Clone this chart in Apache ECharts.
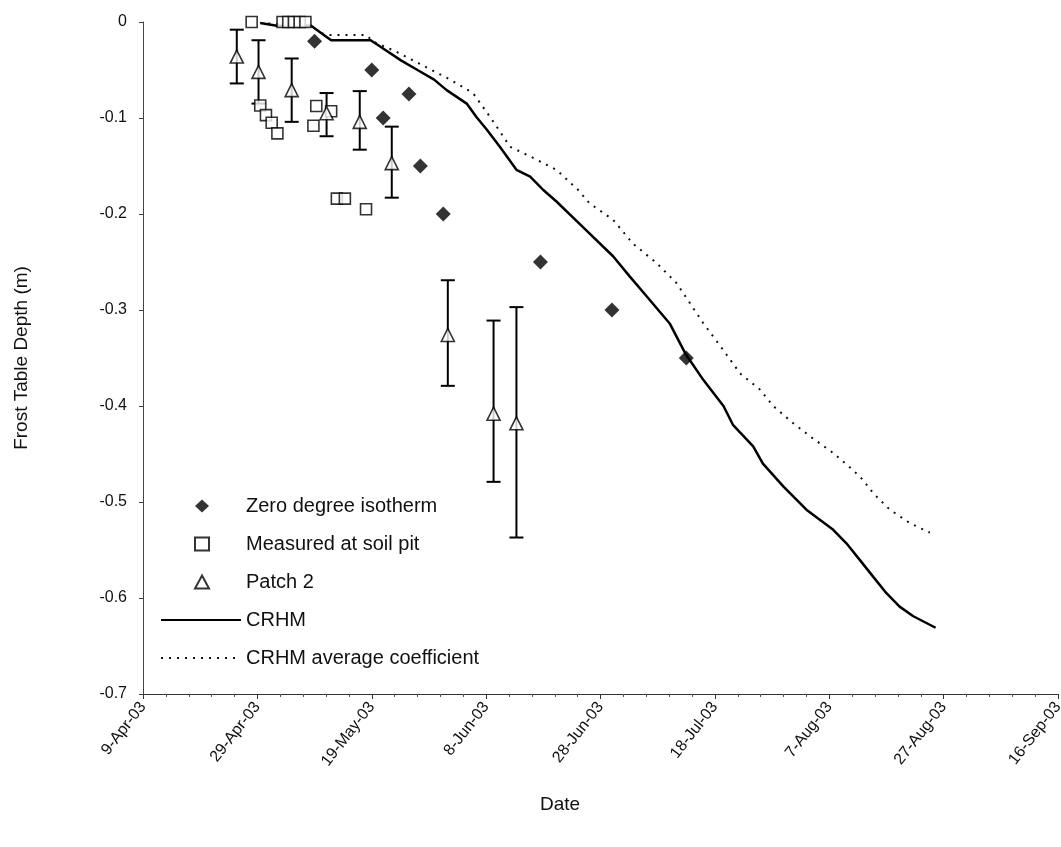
<!DOCTYPE html>
<html>
<head>
<meta charset="utf-8">
<title>Frost table depth</title>
<script src="https://cdn.jsdelivr.net/npm/echarts@6.0.0/dist/echarts.min.js"></script>
<style>
  html, body { margin: 0; background: #fff; }
  #chart { width: 1061px; height: 847px; }
</style>
</head>
<body>
<div id="chart"></div>
<script>
// x values are days after 9-Apr-03
const START = Date.UTC(2003, 3, 9);
const MONTHS = ['Jan', 'Feb', 'Mar', 'Apr', 'May', 'Jun', 'Jul', 'Aug', 'Sep', 'Oct', 'Nov', 'Dec'];

const isothermDay = [30, 40, 42, 46.5, 48.5, 52.5, 69.5, 82, 95];
const isothermDepth = [-0.02, -0.05, -0.1, -0.075, -0.15, -0.2, -0.25, -0.3, -0.35];

const pitDay = [19, 20.5, 21.5, 22.5, 23.5, 24.4, 25.4, 26.4, 27.4, 28.4, 29.8, 30.3, 32.9, 33.9, 35.3, 39];
const pitDepth = [0, -0.087, -0.097, -0.105, -0.116, 0, 0, 0, 0, 0, -0.108, -0.0875, -0.093, -0.184, -0.184, -0.195];

const patchDay = [16.4, 20.2, 26, 32.1, 37.9, 43.5, 53.3, 61.3, 65.3];
const patchDepth = [-0.036, -0.052, -0.071, -0.095, -0.104, -0.147, -0.326, -0.408, -0.418];
const patchLow = [-0.064, -0.085, -0.104, -0.119, -0.133, -0.183, -0.379, -0.479, -0.537];
const patchHigh = [-0.008, -0.019, -0.038, -0.074, -0.072, -0.109, -0.269, -0.311, -0.297];

const crhmDay = [20.5, 23.4, 29.4, 31.5, 32.9, 39.8, 41.6, 45.1, 48, 50.9, 53.1, 56.6, 58.3, 60.1, 62.4, 65.3,
  67.7, 70, 72.3, 76.3, 82.2, 85.1, 88.1, 92.1, 94.8, 98, 101.5, 103.2, 106.7, 108.4, 112, 116, 120.7,
  123, 125.3, 127.7, 130, 132.3, 134.7, 138.6];
const crhmDepth = [-0.001, -0.004, -0.004, -0.013, -0.019, -0.019, -0.026, -0.04, -0.05, -0.06, -0.071, -0.085,
  -0.099, -0.112, -0.13, -0.154, -0.161, -0.175, -0.187, -0.21, -0.244, -0.265, -0.286, -0.314, -0.345, -0.373,
  -0.4, -0.42, -0.442, -0.46, -0.484, -0.508, -0.529, -0.543, -0.56, -0.578, -0.595, -0.609, -0.619, -0.631];

const avgDay = [20.5, 29.4, 31, 32.1, 39, 40.3, 44.3, 53.7, 57.7, 60.7, 64.2, 67.7, 72.3, 76.1, 78.1, 82.2,
  85.7, 89.8, 93.3, 98, 101.5, 104.4, 107.9, 110.2, 113.7, 117.2, 120.7, 124.2, 125.9, 127.7, 130.6, 134.1, 137.6];
const avgDepth = [-0.001, -0.004, -0.011, -0.0135, -0.0135, -0.0205, -0.031, -0.06, -0.074, -0.099, -0.13, -0.14,
  -0.154, -0.175, -0.189, -0.206, -0.231, -0.251, -0.272, -0.314, -0.342, -0.366, -0.383, -0.4, -0.418, -0.434,
  -0.449, -0.467, -0.477, -0.491, -0.508, -0.522, -0.532];

const dayTicks = 20;

const FONT = "'Liberation Sans', Arial, sans-serif";
const zip = (xs, ys) => xs.map((x, i) => [x, ys[i]]);

function dayLabel(d) {
  const t = new Date(START + d * 86400000);
  return t.getUTCDate() + '-' + MONTHS[t.getUTCMonth()] + '-03';
}

const chart = echarts.init(document.getElementById('chart'), null, { renderer: 'canvas' });

const legendText = { fontFamily: FONT, fontSize: 20, color: '#111' };

const option = {
  backgroundColor: '#fff',
  animation: false,
  textStyle: { fontFamily: FONT, color: '#111' },
  grid: { left: 143, right: 3, top: 22, bottom: 153, outerBoundsMode: 'none' },
  legend: [
    {
      // marker entries: small icon, text lined up with the line entries
      orient: 'vertical',
      left: 189,
      top: 491,
      itemWidth: 14,
      itemHeight: 13,
      itemGap: 18,
      selectedMode: false,
      textStyle: Object.assign({ padding: [0, 0, 0, 32] }, legendText),
      data: ['Zero degree isotherm', 'Measured at soil pit', 'Patch 2']
    },
    {
      orient: 'vertical',
      left: 155,
      top: 605,
      itemWidth: 80,
      itemHeight: 12,
      itemGap: 18,
      selectedMode: false,
      textStyle: legendText,
      data: [
        { name: 'CRHM', itemStyle: { opacity: 0 } },
        { name: 'CRHM average coefficient', itemStyle: { opacity: 0 } }
      ]
    }
  ],
  xAxis: {
    type: 'value',
    min: 0,
    max: 160,
    interval: dayTicks,
    axisLine: { onZero: false, lineStyle: { color: '#333', width: 1 } },
    axisTick: { length: 5, lineStyle: { color: '#333' } },
    minorTick: { show: true, splitNumber: 5, length: 3, lineStyle: { color: '#555' } },
    splitLine: { show: false },
    axisLabel: {
      rotate: 52,
      margin: 10,
      fontSize: 16,
      color: '#111',
      fontFamily: FONT,
      showMinLabel: true,
      showMaxLabel: true,
      formatter: dayLabel
    }
  },
  yAxis: {
    type: 'value',
    min: -0.7,
    max: 0,
    interval: 0.1,
    name: 'Frost Table Depth (m)',
    nameLocation: 'middle',
    nameGap: 112,
    nameTextStyle: { fontSize: 19, color: '#111', fontFamily: FONT },
    axisLine: { show: true, lineStyle: { color: '#444', width: 1 } },
    axisTick: { show: true, length: 4, lineStyle: { color: '#444' } },
    splitLine: { show: false },
    axisLabel: {
      margin: 16,
      fontSize: 16,
      color: '#111',
      fontFamily: FONT,
      formatter: v => (Math.abs(v) < 1e-9 ? '0' : v.toFixed(1))
    }
  },
  graphic: [{
    type: 'text',
    left: 540,
    top: 795,
    style: { text: 'Date', font: "19px 'Liberation Sans', Arial, sans-serif", fill: '#111' }
  }],
  series: [
    {
      name: 'CRHM',
      type: 'line',
      symbol: 'none',
      itemStyle: { color: '#000' },
      lineStyle: { color: '#000', width: 2.5 },
      data: zip(crhmDay, crhmDepth),
      z: 2
    },
    {
      name: 'CRHM average coefficient',
      type: 'line',
      symbol: 'none',
      itemStyle: { color: '#000' },
      lineStyle: { color: '#111', width: 2, type: [2, 6] },
      data: zip(avgDay, avgDepth),
      z: 2
    },
    {
      name: 'Patch 2 range',
      type: 'custom',
      encode: { x: 0, y: [1, 2] },
      data: patchDay.map((d, i) => [d, patchLow[i], patchHigh[i]]),
      renderItem(params, api) {
        const x = api.value(0);
        const lo = api.coord([x, api.value(1)]);
        const hi = api.coord([x, api.value(2)]);
        const cap = 7;
        const style = { stroke: '#000', lineWidth: 2 };
        return {
          type: 'group',
          children: [
            { type: 'line', shape: { x1: lo[0], y1: lo[1], x2: hi[0], y2: hi[1] }, style },
            { type: 'line', shape: { x1: lo[0] - cap, y1: lo[1], x2: lo[0] + cap, y2: lo[1] }, style },
            { type: 'line', shape: { x1: hi[0] - cap, y1: hi[1], x2: hi[0] + cap, y2: hi[1] }, style }
          ]
        };
      },
      z: 3
    },
    {
      name: 'Zero degree isotherm',
      type: 'scatter',
      symbol: 'diamond',
      symbolSize: 15,
      itemStyle: { color: '#000' },
      data: zip(isothermDay, isothermDepth),
      z: 4
    },
    {
      name: 'Measured at soil pit',
      type: 'scatter',
      symbol: 'rect',
      symbolSize: 11,
      itemStyle: { color: '#fff', borderColor: '#000', borderWidth: 1.6 },
      data: zip(pitDay, pitDepth),
      z: 4
    },
    {
      name: 'Patch 2',
      type: 'scatter',
      symbol: 'triangle',
      symbolSize: [13, 13],
      itemStyle: { color: '#fff', borderColor: '#000', borderWidth: 1.6 },
      data: zip(patchDay, patchDepth),
      z: 5
    }
  ]
};

chart.setOption(option);
</script>
</body>
</html>
